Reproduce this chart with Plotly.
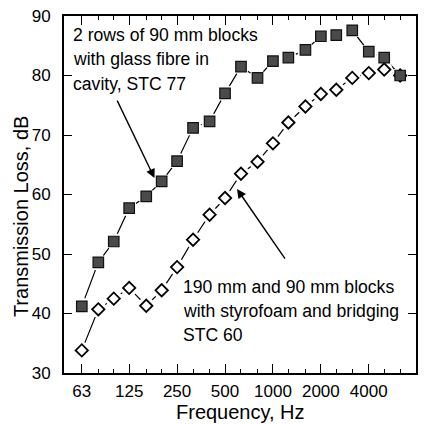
import plotly.graph_objects as go

# One-third octave band centre frequencies (Hz)
freqs = [63, 80, 100, 125, 160, 200, 250, 315, 400, 500, 630, 800,
         1000, 1250, 1600, 2000, 2500, 3150, 4000, 5000, 6300]

# Transmission loss (dB) for the two wall constructions
glass_fibre = [41.2, 48.6, 52.1, 57.7, 59.7, 62.2, 65.6, 71.2, 72.3, 77.0, 81.5,
               79.6, 82.4, 83.0, 84.3, 86.6, 86.8, 87.6, 84.0, 83.0, 80.0]
styrofoam = [33.8, 40.7, 42.5, 44.3, 41.3, 43.9, 47.8, 52.4, 56.6, 59.4, 63.5,
             65.5, 68.6, 72.1, 74.8, 76.9, 77.6, 79.6, 80.4, 81.0, 80.0]

major_ticks = [63, 125, 250, 500, 1000, 2000, 4000]
minor_ticks = [f for f in freqs if f not in major_ticks]
y_ticks = [30, 40, 50, 60, 70, 80, 90]

label_glass = ["2 rows of 90 mm blocks", "with glass fibre in", "cavity, STC 77"]
label_styro = ["190 mm and 90 mm blocks", "with styrofoam and bridging", "STC 60"]

FONT = "Liberation Sans, Arial, Helvetica, sans-serif"

W, H = 425, 424
L, R, T, B = 64, 7, 14, 51
PW, PH = W - L - R, H - T - B


def px(x):
    return (x - L) / PW


def py(y):
    return (H - B - y) / PH


fig = go.Figure()

# connecting lines
for vals in (glass_fibre, styrofoam):
    fig.add_trace(go.Scatter(x=freqs, y=vals, mode="lines",
                             line=dict(color="black", width=1.2),
                             hoverinfo="skip", showlegend=False))

# white halos leave a gap in the line around every marker
for vals in (styrofoam, glass_fibre):
    fig.add_trace(go.Scatter(x=freqs, y=vals, mode="markers",
                             marker=dict(symbol="circle", size=17, color="white",
                                         line=dict(width=0)),
                             hoverinfo="skip", showlegend=False))

fig.add_trace(go.Scatter(x=freqs, y=styrofoam, mode="markers",
                         marker=dict(symbol="diamond", size=9.5, color="white",
                                     line=dict(color="black", width=1.8)),
                         showlegend=False))
fig.add_trace(go.Scatter(x=freqs, y=glass_fibre, mode="markers",
                         marker=dict(symbol="square", size=10.5, color="#4a4a4a",
                                     line=dict(color="#111111", width=1.2)),
                         showlegend=False))

fig.update_xaxes(
    type="log", range=[1.6875, 3.8987],
    tickmode="array", tickvals=major_ticks, ticktext=[str(v) for v in major_ticks],
    ticks="inside", ticklen=9, tickwidth=1.3, tickcolor="black",
    minor=dict(tickmode="array", tickvals=minor_ticks, ticks="inside",
               ticklen=4, tickwidth=1.3, tickcolor="black"),
    showline=True, linecolor="black", linewidth=2, mirror="allticks",
    showgrid=False, zeroline=False,
    tickfont=dict(family=FONT, size=17, color="black"),
    ticklabelstandoff=2,
)
fig.update_yaxes(
    range=[30, 90], tickmode="array", tickvals=y_ticks,
    ticks="inside", ticklen=8, tickwidth=1.3, tickcolor="black",
    showline=True, linecolor="black", linewidth=2, mirror="allticks",
    showgrid=False, zeroline=False,
    tickfont=dict(family=FONT, size=17, color="black"),
    ticklabelstandoff=8,
)

annotations = [
    dict(x=px(21), y=py(215), xref="paper", yref="paper", showarrow=False,
         xanchor="center", yanchor="middle",
         text="Transmission Loss, dB", textangle=-90,
         font=dict(family=FONT, size=20, color="black")),
    dict(x=px(241), y=py(412), xref="paper", yref="paper", showarrow=False,
         xanchor="center", yanchor="middle",
         text="Frequency, Hz", font=dict(family=FONT, size=20, color="black")),
    dict(x=px(155), y=py(177), xref="paper", yref="paper", text="",
         showarrow=True, ax=-38, ay=-79, arrowhead=2, arrowsize=1.3,
         arrowwidth=1.4, arrowcolor="black", standoff=0),
    dict(x=px(238), y=py(188), xref="paper", yref="paper", text="",
         showarrow=True, ax=49, ay=71, arrowhead=2, arrowsize=1.3,
         arrowwidth=1.4, arrowcolor="black", standoff=0),
]

# multi-line callout texts, one annotation per line
for i, line in enumerate(label_glass):
    annotations.append(dict(x=px(71), y=py(33 + 24.5 * i), xref="paper", yref="paper",
                            showarrow=False, xanchor="left", yanchor="middle",
                            text=line, font=dict(family=FONT, size=17.6, color="black")))
for i, line in enumerate(label_styro):
    annotations.append(dict(x=px(182), y=py(287 + 24 * i), xref="paper", yref="paper",
                            showarrow=False, xanchor="left", yanchor="middle",
                            text=line, font=dict(family=FONT, size=17.6, color="black")))

fig.update_layout(
    width=W, height=H,
    margin=dict(l=L, r=R, t=T, b=B),
    paper_bgcolor="white", plot_bgcolor="white",
    annotations=annotations,
    showlegend=False,
)

fig.write_html("out.html")
